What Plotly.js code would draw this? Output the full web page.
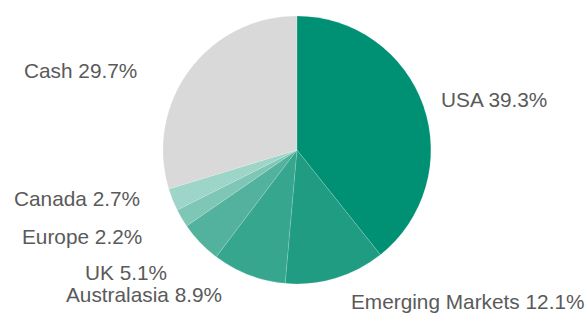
<!DOCTYPE html>
<html><head><meta charset="utf-8">
<script src="https://cdn.plot.ly/plotly-3.0.1.min.js"></script>
<style>html,body{margin:0;padding:0;background:#fff}#chart{width:588px;height:313px}</style>
</head><body><div id="chart"></div>
<script>
const labels = ["USA", "Emerging Markets", "Australasia", "UK", "Europe", "Canada", "Cash"];
const values = [39.3, 12.1, 8.9, 5.1, 2.2, 2.7, 29.7];
const colors = ["#009073", "#1f9c82", "#37a68f", "#52b29d", "#7ec6b6", "#9dd5c9", "#d9d9d9"];

// label placement (pixels in the 588x313 frame): [x edge, y centre, anchor]
const labelPos = [
  [440, 100, "left"],
  [350, 301, "left"],
  [223, 294, "right"],
  [168, 272, "right"],
  [143, 236, "right"],
  [141, 198, "right"],
  [138, 70, "right"]
];

const W = 588, H = 313;
const font = {family: "Liberation Sans, Arial, sans-serif", size: 20.8, color: "#5a5a5a"};
const annotations = labels.map((l, i) => ({
  text: l + " " + values[i].toFixed(1) + "%",
  xref: "paper", yref: "paper",
  x: labelPos[i][0] / W, y: 1 - labelPos[i][1] / H,
  xanchor: labelPos[i][2], yanchor: "middle",
  showarrow: false, font: font, borderpad: 0
}));

Plotly.newPlot("chart", [{
  type: "pie",
  labels: labels,
  values: values,
  sort: false,
  direction: "clockwise",
  rotation: 0,
  marker: {colors: colors, line: {color: "rgba(255,255,255,0.3)", width: 0.5}},
  textinfo: "none",
  hoverinfo: "none",
  automargin: false,
  domain: {x: [0.277, 0.733], y: [0.093, 0.949]}
}], {
  width: W, height: H,
  margin: {l: 0, r: 0, t: 0, b: 0},
  showlegend: false,
  paper_bgcolor: "#ffffff",
  annotations: annotations
}, {displayModeBar: false, staticPlot: true});
</script></body></html>
